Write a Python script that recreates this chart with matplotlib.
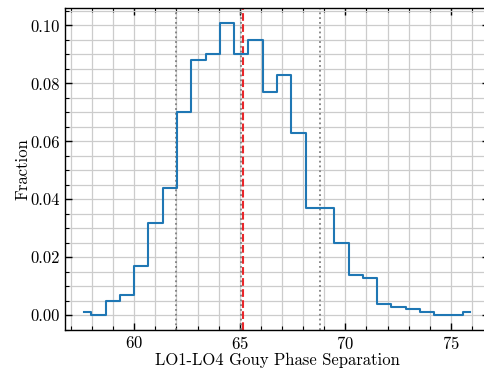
#!/usr/bin/python

#-------------------#
# Import
#-------------------#
import numpy as np
import matplotlib
matplotlib.use("Agg")
import matplotlib.pyplot as plt
from matplotlib.ticker import MultipleLocator

#-------------------#
# Setting Font
#-------------------#
plt.rc('font', family='serif', serif=['cmr10'], size=12)
plt.rc('mathtext', fontset='cm')
plt.rcParams['axes.formatter.use_mathtext'] = True

#-------------------#
# Data
#-------------------#
# Bin centres of the histogram (Gouy phase separation, deg)
bin_centers = [57.63, 58.31, 58.98, 59.66, 60.34, 61.01, 61.69, 62.37,
               63.04, 63.72, 64.40, 65.07, 65.75, 66.43, 67.10, 67.78,
               68.46, 69.13, 69.81, 70.49, 71.16, 71.84, 72.52, 73.19,
               73.87, 74.55, 75.22, 75.90]
# Fraction in each bin
fraction = [0.001, 0.000, 0.005, 0.007, 0.017, 0.032, 0.044, 0.070,
            0.088, 0.090, 0.101, 0.090, 0.095, 0.077, 0.083, 0.063,
            0.037, 0.037, 0.025, 0.014, 0.013, 0.004, 0.003, 0.002,
            0.001, 0.000, 0.000, 0.001]
# Percentiles (dotted) and mean (dashed)
percentiles = [61.97, 65.06, 68.80]
mean_value = 65.15

#-------------------#
# Plot
#-------------------#
fig = plt.figure(figsize=(4.85, 3.77), dpi=100)
ax = fig.add_axes([0.134, 0.125, 0.875, 0.854])

ax.step(bin_centers, fraction, where='mid', color='#1f77b4', lw=1.5, zorder=3)
for p in percentiles:
	ax.axvline(p, color='grey', ls=':', lw=1.3, zorder=2)
ax.axvline(mean_value, color='#e8262a', ls='--', lw=1.5, zorder=2)

ax.set_xlim(56.72, 76.82)
ax.set_ylim(-0.00505, 0.10605)
ax.xaxis.set_major_locator(MultipleLocator(5))
ax.xaxis.set_minor_locator(MultipleLocator(1))
ax.yaxis.set_major_locator(MultipleLocator(0.02))
ax.yaxis.set_minor_locator(MultipleLocator(0.005))
ax.yaxis.set_major_formatter(plt.FormatStrFormatter('%.2f'))

ax.grid(which='both', color='#cccccc', lw=0.9, zorder=0)
ax.set_axisbelow(True)
ax.tick_params(which='both', direction='in', top=True, right=True)
ax.tick_params(which='major', length=5, width=1.0)
ax.tick_params(which='minor', length=3, width=0.8)
for s in ax.spines.values():
	s.set_linewidth(1.0)

ax.set_xlabel("LO1-LO4 Gouy Phase Separation", labelpad=1)
ax.set_ylabel("Fraction", labelpad=0)

#-------------------#
# Save
#-------------------#
fig.savefig("out.png", dpi=100)
